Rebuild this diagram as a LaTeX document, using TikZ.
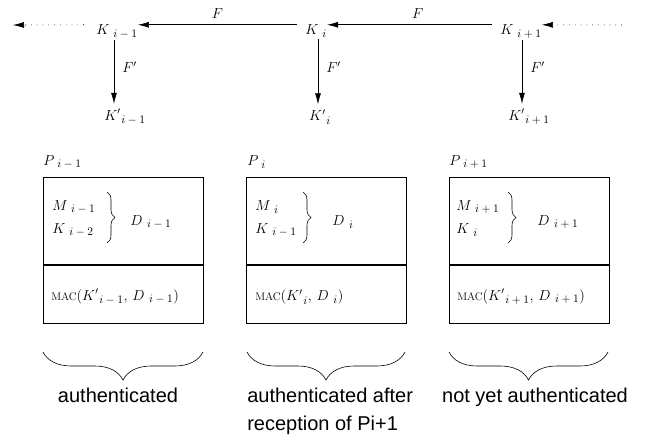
\documentclass[tikz,border=0pt]{standalone}
\usepackage{fix-cm}
\usepackage{fontspec}
\newfontfamily\labelfont{Liberation Sans}
\usetikzlibrary{arrows.meta,decorations.pathreplacing}
\newcommand{\ix}[1]{_{\kern5pt\mbox{\fontsize{11.5}{12}\selectfont$#1$}}}

\begin{document}
\begin{tikzpicture}[x=1pt,y=-1pt,line width=.6pt,>={Latex[length=11pt,width=6pt]},
 key/.style={inner sep=0pt,font=\fontsize{14.5}{17}\selectfont},
 mac/.style={key,anchor=west},
 half/.style={draw,minimum width=160pt,inner sep=0pt},
 curly/.style={decorate,decoration={brace,amplitude=#1}},
 verdict/.style={inner sep=0pt,font=\labelfont\fontsize{20}{28}\selectfont,align=left}]
\useasboundingbox (0,0) rectangle (645,438);
% chain of keys
\node[key,anchor=base west] (ka) at (96,35) {$K\ix{i-1}$};
\node[key,anchor=base west] (kb) at (305,35) {$K\ix{i}$};
\node[key,anchor=base west] (kc) at (500,35) {$K\ix{i+1}$};
\node[key] (kpa) at (125,117) {$K'\ix{i-1}$};
\node[key] (kpb) at (320,117) {$K'\ix{i}$};
\node[key] (kpc) at (529,117) {$K'\ix{i+1}$};
\coordinate (dl) at (13,25);
\coordinate (dr) at (622,25);
\draw[->,dash pattern=on .8pt off 5pt] ([xshift=-12pt]ka.north west) -- (dl);
\draw[->] ([xshift=-8pt]kb.north west) -- node[key,above=6pt]{$F$} (ka.north east);
\draw[->] ([xshift=-8pt]kc.north west) -- node[key,above=6pt,pos=.45]{$F$} (kb.north east);
\draw[->,dash pattern=on .8pt off 5pt] (dr) -- (kc.north east);
\draw[->,shorten >=5pt] ([xshift=18pt,yshift=-1pt]ka.south west) -- ([xshift=18pt]ka.south west |- kpa.north)
  node[key,right=8pt,pos=.4]{$F'$};
\draw[->,shorten >=5pt] ([xshift=13pt,yshift=-1pt]kb.south west) -- ([xshift=13pt]kb.south west |- kpb.north)
  node[key,right=8pt,pos=.4]{$F'$};
\draw[->,shorten >=5pt] ([xshift=22pt,yshift=-1pt]kc.south west) -- ([xshift=22pt]kc.south west |- kpc.north)
  node[key,right=8pt,pos=.4]{$F'$};

% packets
\node[key,anchor=west] (pa) at (43,162) {$P\ix{i-1}$};
\node[key,anchor=west] (pb) at (247,162) {$P\ix{i}$};
\node[key,anchor=west] (pc) at (449,162) {$P\ix{i+1}$};
\node[half,minimum height=87pt,anchor=north west] (da) at (43,177) {};
\node[half,minimum height=58pt,anchor=north] (ma) at (da.south) {};
\node[half,minimum height=87pt,anchor=north west] (db) at (246,177) {};
\node[half,minimum height=58pt,anchor=north] (mb) at (db.south) {};
\node[half,minimum height=87pt,anchor=north west] (dc) at (449,177) {};
\node[half,minimum height=58pt,anchor=north] (mc) at (dc.south) {};

\node[key,anchor=west] (msga) at (52,207) {$M\ix{i-1}$};
\node[key,anchor=west] (olda) at (52,230) {$K\ix{i-2}$};
\draw[curly=8pt] (107,192) -- (107,243);
\node[key,anchor=west] (dta) at (130,222) {$D\ix{i-1}$};
\node[mac] (maca) at (51,297) {$\mbox{\fontsize{11}{12}\selectfont MAC}(K'\ix{i-1},\,D\ix{i-1})$};

\node[key,anchor=west] (msgb) at (255,207) {$M\ix{i}$};
\node[key,anchor=west] (oldb) at (255,230) {$K\ix{i-1}$};
\draw[curly=8pt] (303,192) -- (303,243);
\node[key,anchor=west] (dtb) at (332,222) {$D\ix{i}$};
\node[mac] (macb) at (255,297) {$\mbox{\fontsize{11}{12}\selectfont MAC}(K'\ix{i},\,D\ix{i})$};

\node[key,anchor=west] (msgc) at (456,207) {$M\ix{i+1}$};
\node[key,anchor=west] (oldc) at (456,230) {$K\ix{i}$};
\draw[curly=8pt] (508,192) -- (508,243);
\node[key,anchor=west] (dtc) at (537,222) {$D\ix{i+1}$};
\node[mac] (macc) at (457,297) {$\mbox{\fontsize{11}{12}\selectfont MAC}(K'\ix{i+1},\,D\ix{i+1})$};

% status
\draw[curly=28pt] (203,352) -- (43,352);
\draw[curly=28pt] (405,352) -- (247,352);
\draw[curly=28pt] (608,352) -- (449,352);
\node[verdict,anchor=base] (va) at (118,402) {authenticated};
\node[verdict,anchor=north west] (vb) at (247,387.5) {authenticated after\\reception of Pi+1};
\node[verdict,anchor=base] (vc) at (535,402) {not yet authenticated};
\end{tikzpicture}
\end{document}
